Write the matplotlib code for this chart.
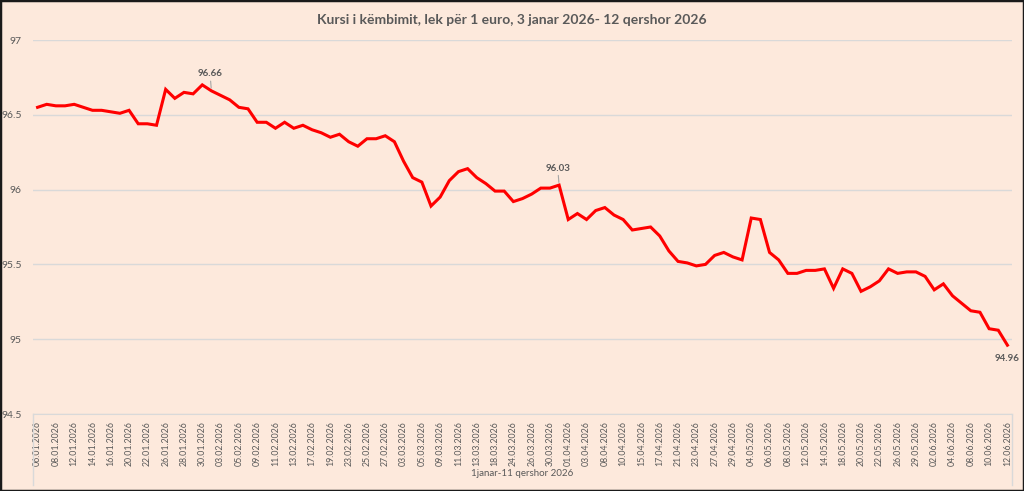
import matplotlib.pyplot as plt
from matplotlib.patches import Rectangle

# Exchange rate ALL per EUR, business days
dates = [
    "06.01.2026", "07.01.2026", "08.01.2026", "09.01.2026", "12.01.2026", "13.01.2026",
    "14.01.2026", "15.01.2026", "16.01.2026", "19.01.2026", "20.01.2026", "21.01.2026",
    "22.01.2026", "23.01.2026", "26.01.2026", "27.01.2026", "28.01.2026", "29.01.2026",
    "30.01.2026", "02.02.2026", "03.02.2026", "04.02.2026", "05.02.2026", "06.02.2026",
    "09.02.2026", "10.02.2026", "11.02.2026", "12.02.2026", "13.02.2026", "16.02.2026",
    "17.02.2026", "18.02.2026", "19.02.2026", "20.02.2026", "23.02.2026", "24.02.2026",
    "25.02.2026", "26.02.2026", "27.02.2026", "02.03.2026", "03.03.2026", "04.03.2026",
    "05.03.2026", "06.03.2026", "09.03.2026", "10.03.2026", "11.03.2026", "12.03.2026",
    "13.03.2026", "17.03.2026", "18.03.2026", "19.03.2026", "24.03.2026", "25.03.2026",
    "26.03.2026", "27.03.2026", "30.03.2026", "31.03.2026", "01.04.2026", "02.04.2026",
    "03.04.2026", "07.04.2026", "08.04.2026", "09.04.2026", "10.04.2026", "14.04.2026",
    "15.04.2026", "16.04.2026", "17.04.2026", "20.04.2026", "21.04.2026", "22.04.2026",
    "23.04.2026", "24.04.2026", "27.04.2026", "28.04.2026", "29.04.2026", "30.04.2026",
    "04.05.2026", "05.05.2026", "06.05.2026", "07.05.2026", "08.05.2026", "11.05.2026",
    "12.05.2026", "13.05.2026", "14.05.2026", "15.05.2026", "18.05.2026", "19.05.2026",
    "20.05.2026", "21.05.2026", "22.05.2026", "25.05.2026", "26.05.2026", "28.05.2026",
    "29.05.2026", "01.06.2026", "02.06.2026", "03.06.2026", "04.06.2026", "05.06.2026",
    "08.06.2026", "09.06.2026", "10.06.2026", "11.06.2026", "12.06.2026",
]

rate = [
    96.55, 96.57, 96.56, 96.56, 96.57, 96.55, 96.53, 96.53, 96.52, 96.51,
    96.53, 96.44, 96.44, 96.43, 96.67, 96.61, 96.65, 96.64, 96.70, 96.66,
    96.63, 96.60, 96.55, 96.54, 96.45, 96.45, 96.41, 96.45, 96.41, 96.43,
    96.40, 96.38, 96.35, 96.37, 96.32, 96.29, 96.34, 96.34, 96.36, 96.32,
    96.19, 96.08, 96.05, 95.89, 95.95, 96.06, 96.12, 96.14, 96.08, 96.04,
    95.99, 95.99, 95.92, 95.94, 95.97, 96.01, 96.01, 96.03, 95.80, 95.84,
    95.80, 95.86, 95.88, 95.83, 95.80, 95.73, 95.74, 95.75, 95.69, 95.59,
    95.52, 95.51, 95.49, 95.50, 95.56, 95.58, 95.55, 95.53, 95.81, 95.80,
    95.58, 95.53, 95.44, 95.44, 95.46, 95.46, 95.47, 95.34, 95.47, 95.44,
    95.32, 95.35, 95.39, 95.47, 95.44, 95.45, 95.45, 95.42, 95.33, 95.37,
    95.29, 95.24, 95.19, 95.18, 95.07, 95.06, 94.96,
]

# points carrying a data label: (index, text)
labelled = [(19, "96.66"), (57, "96.03"), (106, "94.96")]

yticks = [94.5, 95, 95.5, 96, 96.5, 97]
ytick_labels = ["94.5", "95", "95.5", "96", "96.5", "97"]

bg = "#fde9dc"
grey = "#595959"

plt.rcParams["font.family"] = ["Lato", "DejaVu Sans"]

fig = plt.figure(figsize=(10.24, 4.91), dpi=100, facecolor=bg)
ax = fig.add_axes([33 / 1024, 1 - 414 / 491, (1012 - 33) / 1024, (414 - 40) / 491])
ax.set_facecolor(bg)

x = list(range(len(rate)))
ax.plot(x, rate, color="#ff0000", linewidth=2.2, solid_joinstyle="miter", zorder=3)

ax.set_xlim(-0.5, len(rate) - 0.5)
ax.set_ylim(94.5, 97)
ax.set_yticks(yticks)
ax.set_yticklabels(ytick_labels)
ax.grid(axis="y", color="#d9d9d9", linewidth=1)
ax.set_axisbelow(True)

ax.set_xticks(x[::2])
ax.set_xticklabels(dates[::2], rotation=90)
ax.tick_params(axis="x", length=0, pad=5, labelsize=6.3, labelcolor=grey)
ax.tick_params(axis="y", length=0, pad=8, labelsize=7.5, labelcolor=grey)

for side in ["top", "right", "left"]:
    ax.spines[side].set_visible(False)
ax.spines["bottom"].set_color("#d9d9d9")

# category axis brackets
for xa in (0, 1):
    ax.plot([xa, xa], [0, -0.19], transform=ax.transAxes, color="#d9d9d9",
            linewidth=1, clip_on=False)

ax.set_xlabel("1janar-11 qershor 2026", fontsize=7, color=grey)
ax.xaxis.set_label_coords(0.5, -0.158)
ax.xaxis.label.set_va("center")

for i, txt in labelled:
    if i == len(rate) - 1:
        ax.annotate(txt, (i, rate[i]), xytext=(0, -6), textcoords="offset points",
                    ha="center", va="top", fontsize=7, fontweight="bold", color=grey)
    else:
        ax.annotate(txt, (i, rate[i]), xytext=(-1, 9), textcoords="offset points",
                    ha="center", va="bottom", fontsize=7, fontweight="bold", color=grey,
                    arrowprops=dict(arrowstyle="-", color="#a6a6a6", linewidth=0.8,
                                    shrinkA=0, shrinkB=2))

fig.suptitle("Kursi i këmbimit, lek për 1 euro, 3 janar 2026- 12 qershor 2026",
             y=1 - 20 / 491, va="center", fontsize=10, fontweight="bold", color=grey)

fig.patches.append(Rectangle((0, 0), 1, 1, transform=fig.transFigure, fill=False,
                             edgecolor="#1a1a1a", linewidth=2.5))

fig.savefig("out.png", dpi=100, facecolor=bg)
